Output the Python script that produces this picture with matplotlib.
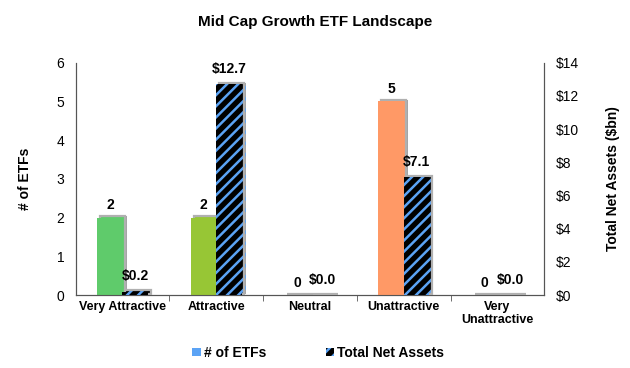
import matplotlib
matplotlib.use("Agg")
import matplotlib.pyplot as plt
import matplotlib.patheffects as pe
from matplotlib.patches import Patch
import numpy as np

# datos
categorias = ["Very Attractive", "Attractive", "Neutral", "Unattractive", "Very\nUnattractive"]
num_etfs = [2, 2, 0, 5, 0]
activos = [0.2, 12.7, 0.0, 7.1, 0.0]
colores = ["#5FCB6B", "#97C635", "#8C8C8C", "#FF9966", "#E3342F"]
azul = "#5BA3F5"

plt.rcParams["font.family"] = ["Liberation Sans", "DejaVu Sans"]
plt.rcParams["hatch.linewidth"] = 1.8

fig, ax = plt.subplots(figsize=(6.3, 3.68), dpi=100)
fig.subplots_adjust(left=0.12, right=0.864, top=0.83, bottom=0.198)
ax2 = ax.twinx()

x = np.arange(len(categorias))
ancho = 0.27
sombra = [pe.SimplePatchShadow(offset=(3, 1), shadow_rgbFace="#9a9a9a", alpha=0.9),
          pe.Stroke(offset=(2, 1), linewidth=1.6, foreground="#b0b0b0"),
          pe.Normal()]

b1 = ax.bar(x - ancho / 2, num_etfs, ancho, color=colores, linewidth=0, zorder=3)
b2 = ax2.bar(x + ancho / 2, activos, ancho, color="black", edgecolor=azul,
             hatch="///", linewidth=0, zorder=3)
for b in list(b1) + list(b2):
    b.set_path_effects(sombra)

for xi, v in zip(x, num_etfs):
    ax.annotate(str(v), (xi - ancho / 2, v), xytext=(0, 4), textcoords="offset points",
                ha="center", va="bottom", fontsize=10, fontweight="bold")
for xi, v in zip(x, activos):
    ax2.annotate("$%.1f" % v, (xi + ancho / 2, v), xytext=(0, 6), textcoords="offset points",
                 ha="center", va="bottom", fontsize=10, fontweight="bold")

ax.set_xlim(-0.5, len(categorias) - 0.5)
ax.set_ylim(0, 6)
ax2.set_ylim(0, 14)
ax.set_xticks(x)
ax.set_xticklabels(categorias, fontsize=9, fontweight="bold")
ax.tick_params(axis="x", length=0, pad=4)
ax.set_xticks(x[:-1] + 0.5, minor=True)
ax.tick_params(axis="x", which="minor", length=4, direction="out", color="#555555")
ax.set_yticks(range(0, 7))
ax2.set_yticks(range(0, 15, 2))
ax2.set_yticklabels(["$%d" % t for t in range(0, 15, 2)])
ax.tick_params(axis="y", labelsize=10, length=0, pad=8)
ax2.tick_params(axis="y", labelsize=10, length=0, pad=8)
for a in (ax, ax2):
    a.spines["top"].set_visible(False)
    for s in ("left", "right", "bottom"):
        a.spines[s].set_color("#555555")

ax.set_ylabel("# of ETFs", fontsize=10, fontweight="bold", labelpad=18)
ax2.set_ylabel("Total Net Assets ($bn)", fontsize=10, fontweight="bold", labelpad=20)
fig.suptitle("Mid Cap Growth ETF Landscape", fontsize=11, fontweight="bold", y=0.96)

manejadores = [Patch(facecolor=azul, linewidth=0),
               Patch(facecolor="black", edgecolor=azul, hatch="///", linewidth=0)]
fig.legend(manejadores, ["# of ETFs", "Total Net Assets"], loc="lower center",
           bbox_to_anchor=(0.505, -0.012), ncol=2, frameon=False,
           prop={"size": 10, "weight": "bold"},
           handlelength=0.6, handleheight=0.6, handletextpad=0.2, columnspacing=4.3)

fig.savefig("out.png", dpi=100)
